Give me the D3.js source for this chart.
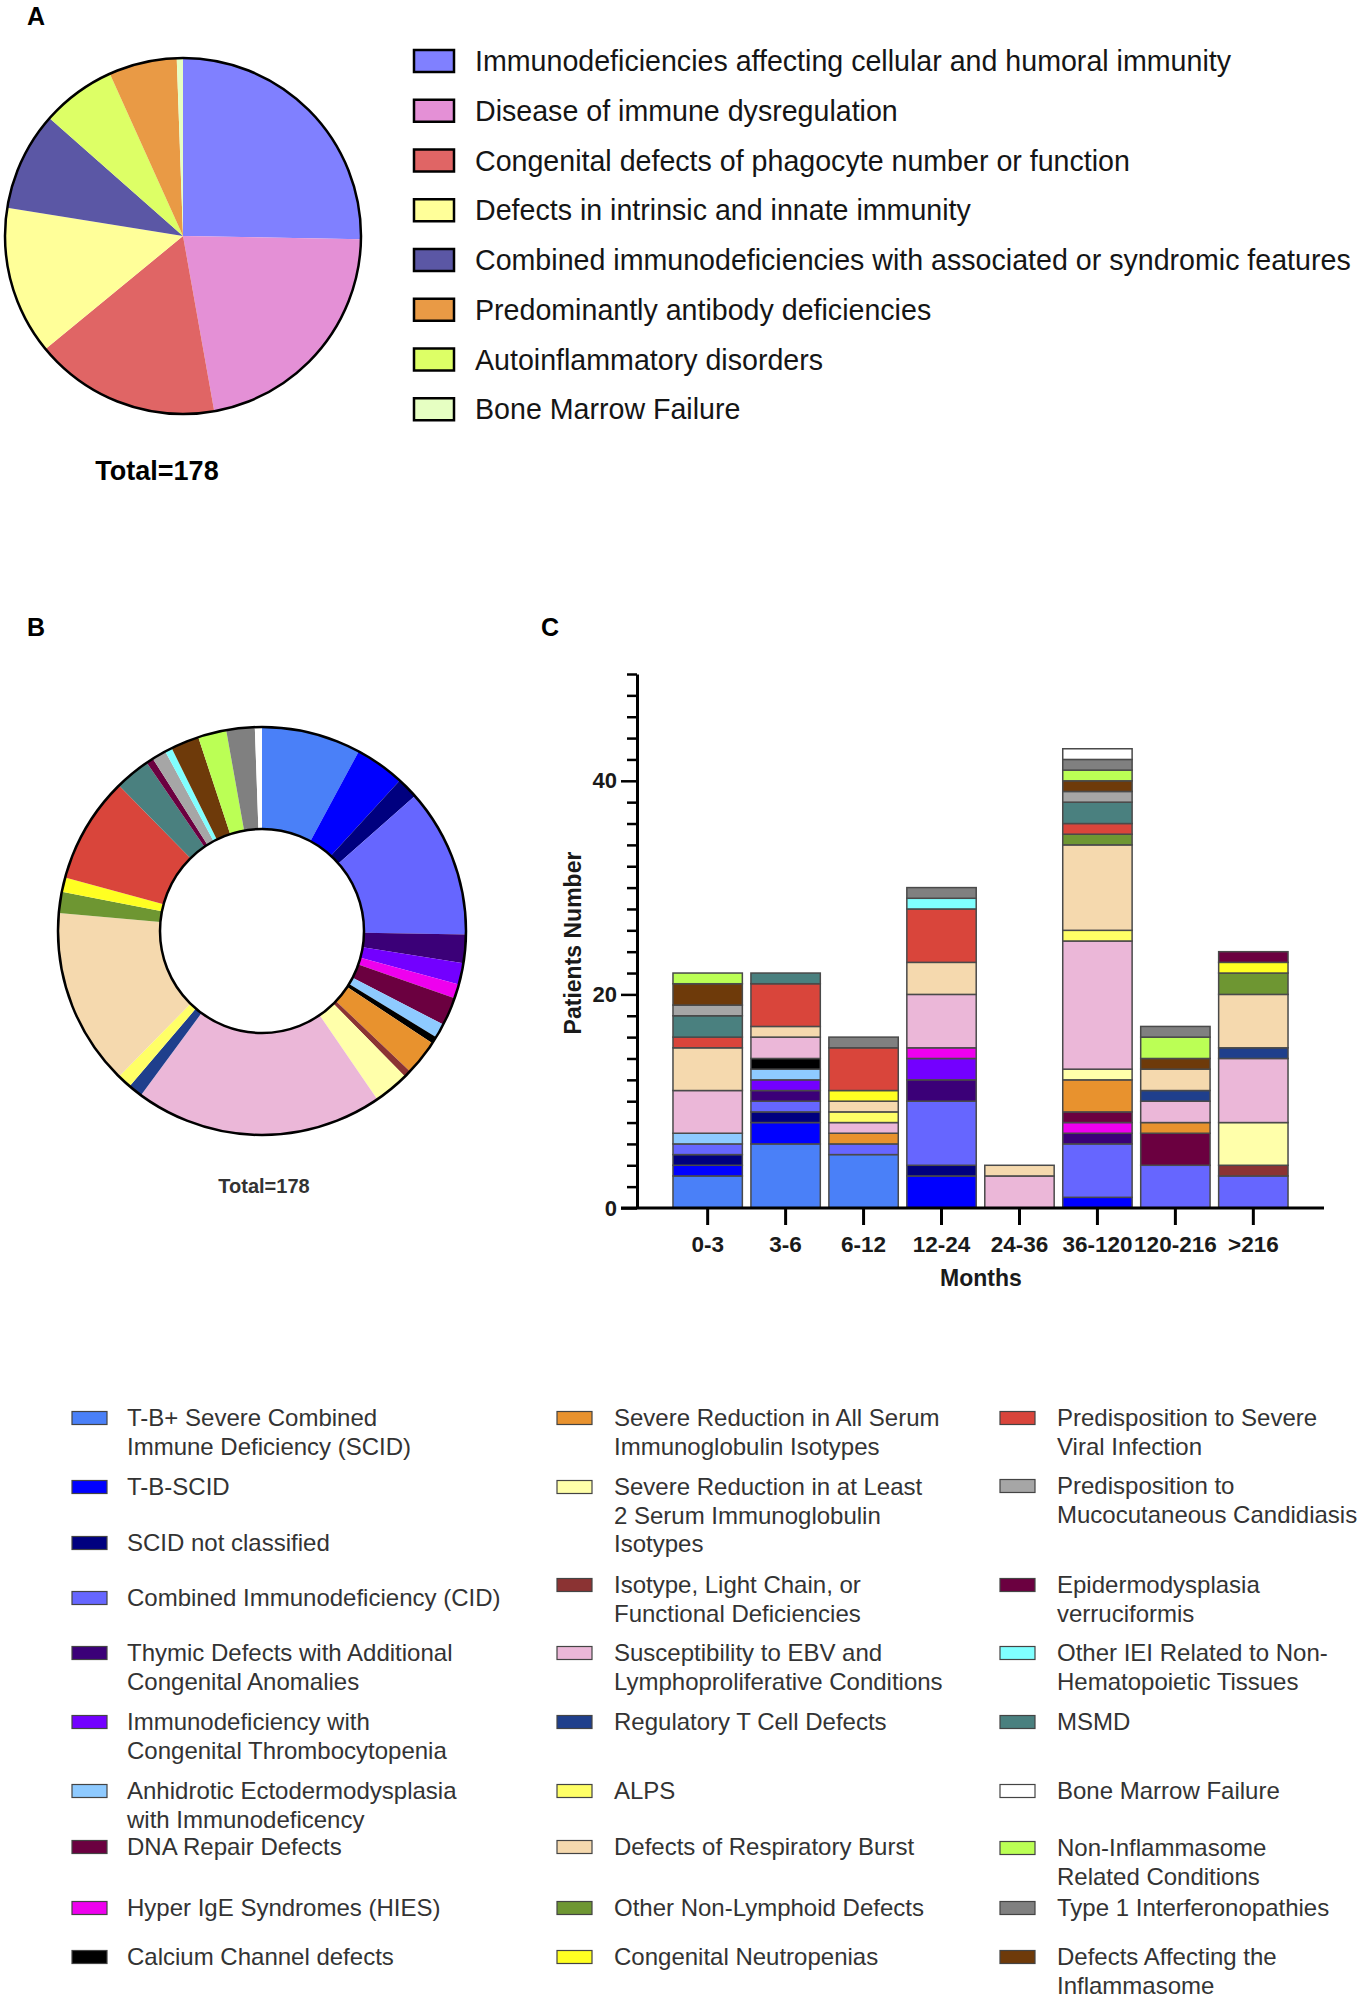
<!doctype html>
<html>
<head>
<meta charset="utf-8">
<style>
    body { margin: 0; background: #fff; }
    svg { display: block; font-family: "Liberation Sans", Arial, Helvetica, sans-serif; }
</style>
<script src="https://d3js.org/d3.v7.min.js"></script>
</head>
<body>
<svg width="1358" height="2000"></svg>
<script>
    // ---- Panel A: main IUIS groups (legend order)
    var groupNames = [
        "Immunodeficiencies affecting cellular and humoral immunity",
        "Disease of immune dysregulation",
        "Congenital defects of phagocyte number or function",
        "Defects in intrinsic and innate immunity",
        "Combined immunodeficiencies with associated or syndromic features",
        "Predominantly antibody deficiencies",
        "Autoinflammatory disorders",
        "Bone Marrow Failure"
    ];
    var groupCounts = [45, 39, 30, 24, 16, 11, 12, 1];
    var groupColors = ["#8080ff", "#e490d6", "#e06565", "#ffff99", "#5b57a5", "#e99a45", "#ddff66", "#e6ffc2"];
    // order the slices go round the pie (clockwise from 12 o'clock)
    var groupPieOrder = [0, 1, 2, 3, 4, 6, 5, 7];

    // ---- Panels B and C: subtypes, in stacking / donut order
    var months = ["0-3", "3-6", "6-12", "12-24", "24-36", "36-120", "120-216", ">216"];
    var subtypeNames = [
        "T-B+ Severe Combined\nImmune Deficiency (SCID)",
        "T-B-SCID",
        "SCID not classified",
        "Combined Immunodeficiency (CID)",
        "Thymic Defects with Additional\nCongenital Anomalies",
        "Immunodeficiency with\nCongenital Thrombocytopenia",
        "Hyper IgE Syndromes (HIES)",
        "DNA Repair Defects",
        "Anhidrotic Ectodermodysplasia\nwith Immunodeficency",
        "Calcium Channel defects",
        "Severe Reduction in All Serum\nImmunoglobulin Isotypes",
        "Isotype, Light Chain, or\nFunctional Deficiencies",
        "Severe Reduction in at Least\n2 Serum Immunoglobulin\nIsotypes",
        "Susceptibility to EBV and\nLymphoproliferative Conditions",
        "Regulatory T Cell Defects",
        "ALPS",
        "Defects of Respiratory Burst",
        "Other Non-Lymphoid Defects",
        "Congenital Neutropenias",
        "Predisposition to Severe\nViral Infection",
        "MSMD",
        "Epidermodysplasia\nverruciformis",
        "Predisposition to\nMucocutaneous Candidiasis",
        "Other IEI Related to Non-\nHematopoietic Tissues",
        "Defects Affecting the\nInflammasome",
        "Non-Inflammasome\nRelated Conditions",
        "Type 1 Interferonopathies",
        "Bone Marrow Failure"
    ];
    var subtypeColors = [
        "#4a80f8", "#0000ff", "#00007f", "#6666ff", "#3b0078", "#7300ff", "#ee00ee", "#6b0040",
        "#8ecaff", "#000000", "#e8922e", "#8b3333", "#ffffaa", "#ebb7d8", "#1f3f8c", "#ffff66",
        "#f5d9ae", "#6e9632", "#ffff22", "#d9453b", "#4a807f", "#6b0040", "#a6a6a6", "#80ffff",
        "#6e3a0a", "#bbff55", "#808080", "#ffffff"
    ];
    // patients per age bin (months), one row per subtype
    var subtypeCounts = [
        [3, 6, 5, 0, 0, 0, 0, 0],
        [1, 2, 0, 3, 0, 1, 0, 0],
        [1, 1, 0, 1, 0, 0, 0, 0],
        [1, 1, 1, 6, 0, 5, 4, 3],
        [0, 1, 0, 2, 0, 1, 0, 0],
        [0, 1, 0, 2, 0, 0, 0, 0],
        [0, 0, 0, 1, 0, 1, 0, 0],
        [0, 0, 0, 0, 0, 1, 3, 0],
        [1, 1, 0, 0, 0, 0, 0, 0],
        [0, 1, 0, 0, 0, 0, 0, 0],
        [0, 0, 1, 0, 0, 3, 1, 0],
        [0, 0, 0, 0, 0, 0, 0, 1],
        [0, 0, 0, 0, 0, 1, 0, 4],
        [4, 2, 1, 5, 3, 12, 2, 6],
        [0, 0, 0, 0, 0, 0, 1, 1],
        [0, 0, 1, 0, 0, 1, 0, 0],
        [4, 1, 1, 3, 1, 8, 2, 5],
        [0, 0, 0, 0, 0, 1, 0, 2],
        [0, 0, 1, 0, 0, 0, 0, 1],
        [1, 4, 4, 5, 0, 1, 0, 0],
        [2, 1, 0, 0, 0, 2, 0, 0],
        [0, 0, 0, 0, 0, 0, 0, 1],
        [1, 0, 0, 0, 0, 1, 0, 0],
        [0, 0, 0, 1, 0, 0, 0, 0],
        [2, 0, 0, 0, 0, 1, 1, 0],
        [1, 0, 0, 0, 0, 1, 2, 0],
        [0, 0, 1, 1, 0, 1, 1, 0],
        [0, 0, 0, 0, 0, 1, 0, 0]
    ];
    var yTicks = d3.range(0, 51, 2);
    var yLabelTicks = [0, 20, 40];

    // legend columns under B and C
    var legendCol1 = [subtypeNames[0], subtypeNames[1], subtypeNames[2], subtypeNames[3], subtypeNames[4],
        subtypeNames[5], subtypeNames[8], subtypeNames[7], subtypeNames[6], subtypeNames[9]];
    var legendCol2 = [subtypeNames[10], subtypeNames[12], subtypeNames[11], subtypeNames[13], subtypeNames[14],
        subtypeNames[15], subtypeNames[16], subtypeNames[17], subtypeNames[18]];
    var legendCol3 = [subtypeNames[19], subtypeNames[22], subtypeNames[21], subtypeNames[23], subtypeNames[20],
        subtypeNames[27], subtypeNames[25], subtypeNames[26], subtypeNames[24]];

    var svg = d3.select("svg");

    function panelLetter(txt, x, y) {
        svg.append("text").attr("x", x).attr("y", y)
            .style("font-size", "25px").style("font-weight", "bold").text(txt);
    }

    // ================= A =================
    panelLetter("A", 27, 25);
    var pieA = svg.append("g").attr("transform", "translate(183,236)");
    var arcA = d3.arc().innerRadius(0).outerRadius(178);
    var pie = d3.pie().sort(null);

    pieA.selectAll("path")
        .data(pie.value(function (d) { return groupCounts[d]; })(groupPieOrder))
        .enter().append("path")
        .attr("d", arcA)
        .attr("fill", function (d) { return groupColors[d.data]; });
    pieA.append("circle").attr("r", 178).attr("fill", "none")
        .attr("stroke", "#000").attr("stroke-width", 2.5);

    svg.append("text")
        .attr("x", 157).attr("y", 480)
        .attr("text-anchor", "middle")
        .style("font-size", "27px").style("font-weight", "bold")
        .text("Total=" + d3.sum(groupCounts));

    var legA = svg.append("g").selectAll("g")
        .data(groupNames)
        .enter().append("g")
        .attr("transform", function (d, i) { return "translate(0," + (61 + i * 49.75) + ")"; });
    legA.append("rect")
        .attr("x", 414).attr("y", -11).attr("width", 40).attr("height", 22)
        .attr("fill", function (d, i) { return groupColors[i]; })
        .attr("stroke", "#000").attr("stroke-width", 2.5);
    legA.append("text")
        .attr("x", 475).attr("dy", "0.35em")
        .style("font-size", "28.6px").style("fill", "#151515")
        .text(function (d) { return d; });

    // ================= B =================
    panelLetter("B", 27, 636);
    var subtypeTotals = subtypeCounts.map(function (r) { return d3.sum(r); });
    var donut = svg.append("g").attr("transform", "translate(262,931)");
    var arcB = d3.arc().innerRadius(102).outerRadius(204);
    donut.selectAll("path")
        .data(d3.pie().sort(null).value(function (d) { return subtypeTotals[d]; })(d3.range(subtypeNames.length)))
        .enter().append("path")
        .attr("d", arcB)
        .attr("fill", function (d) { return subtypeColors[d.data]; });
    donut.append("circle").attr("r", 204).attr("fill", "none").attr("stroke", "#000").attr("stroke-width", 2.5);
    donut.append("circle").attr("r", 102).attr("fill", "none").attr("stroke", "#000").attr("stroke-width", 2.5);

    svg.append("text")
        .attr("x", 264).attr("y", 1193)
        .attr("text-anchor", "middle")
        .style("font-size", "20px").style("font-weight", "bold").style("fill", "#333")
        .text("Total=" + d3.sum(subtypeTotals));

    // ================= C =================
    panelLetter("C", 541, 636);
    var x = d3.scaleBand().domain(months).range([634, 1327]).paddingInner(0.11).paddingOuter(0.5);
    var y = d3.scaleLinear().domain([0, 50]).range([1208, 674]);

    var stacked = d3.stack()
        .keys(d3.range(subtypeNames.length))
        .value(function (m, k) { return subtypeCounts[k][m]; })(d3.range(months.length));

    var layers = svg.append("g").selectAll("g")
        .data(stacked)
        .enter().append("g")
        .attr("fill", function (d, i) { return subtypeColors[i]; });
    layers.selectAll("rect")
        .data(function (d) { return d.filter(function (s) { return s[1] > s[0]; }); })
        .enter().append("rect")
        .attr("x", function (d) { return x(months[d.data]); })
        .attr("y", function (d) { return y(d[1]); })
        .attr("width", x.bandwidth())
        .attr("height", function (d) { return y(d[0]) - y(d[1]); })
        .attr("stroke", "#4a4a4a")
        .attr("stroke-width", 1.5);

    // y axis
    var gy = svg.append("g")
        .attr("transform", "translate(637,0)")
        .call(d3.axisLeft(y).tickValues(yTicks).tickSize(10).tickSizeOuter(0).tickPadding(10)
            .tickFormat(function (d) { return yLabelTicks.indexOf(d) >= 0 ? d : ""; }));
    gy.select(".domain").attr("stroke-width", 3);
    gy.selectAll(".tick line").attr("stroke-width", 2.5)
        .attr("x2", function (d) { return yLabelTicks.indexOf(d) >= 0 ? -16 : -10; });
    gy.selectAll(".tick text").style("font-size", "22px").style("font-weight", "bold")
        .style("fill", "#1a1a1a").attr("font-family", null);

    // x axis
    var gx = svg.append("g")
        .attr("transform", "translate(0,1208)")
        .call(d3.axisBottom(x).tickSize(17).tickSizeOuter(0).tickPadding(11));
    gx.select(".domain").remove();
    gx.append("line").attr("x1", 621).attr("x2", 1324).attr("stroke", "#000").attr("stroke-width", 3);
    gx.selectAll(".tick line").attr("stroke-width", 3);
    gx.selectAll(".tick text").style("font-size", "22.5px").style("font-weight", "bold")
        .style("fill", "#1a1a1a").attr("font-family", null);

    svg.append("text")
        .attr("transform", "translate(573,943) rotate(-90)")
        .attr("text-anchor", "middle").attr("dy", "0.35em")
        .style("font-size", "23px").style("font-weight", "bold").style("fill", "#1a1a1a")
        .text("Patients Number");
    svg.append("text")
        .attr("x", 981).attr("y", 1286)
        .attr("text-anchor", "middle")
        .style("font-size", "23px").style("font-weight", "bold").style("fill", "#1a1a1a")
        .text("Months");

    // ================= legend B/C =================
    var legendCols = [
        { items: legendCol1, sx: 72, tx: 127, rows: [1418, 1487, 1543, 1598, 1653, 1722, 1791, 1847, 1908, 1957] },
        { items: legendCol2, sx: 557, tx: 614, rows: [1418, 1487, 1585, 1653, 1722, 1791, 1847, 1908, 1957] },
        { items: legendCol3, sx: 1000, tx: 1057, rows: [1418, 1486, 1585, 1653, 1722, 1791, 1848, 1908, 1957] }
    ];
    legendCols.forEach(function (col) {
        var it = svg.append("g").selectAll("g")
            .data(col.items)
            .enter().append("g")
            .attr("transform", function (d, i) { return "translate(0," + col.rows[i] + ")"; });
        it.append("rect")
            .attr("x", col.sx).attr("y", -6.5).attr("width", 35).attr("height", 13)
            .attr("fill", function (d) { return subtypeColors[subtypeNames.indexOf(d)]; })
            .attr("stroke", "#444").attr("stroke-width", 1.2);
        it.append("text")
            .attr("x", col.tx)
            .style("font-size", "24px").style("fill", "#333")
            .selectAll("tspan")
            .data(function (d) { return d.split("\n"); })
            .enter().append("tspan")
            .attr("x", col.tx)
            .attr("y", function (d, i) { return i * 28.5; })
            .attr("dy", "0.35em")
            .text(function (d) { return d; });
    });
</script>
</body>
</html>
